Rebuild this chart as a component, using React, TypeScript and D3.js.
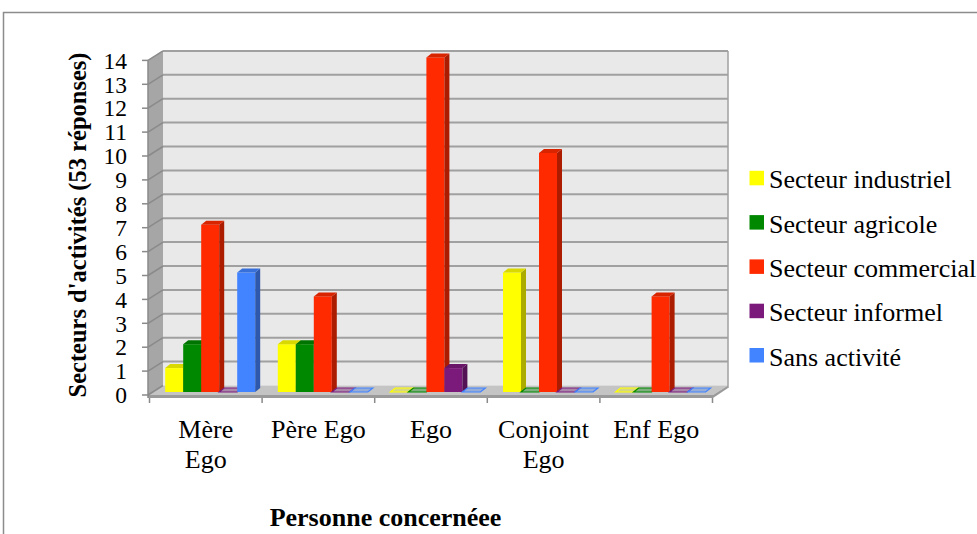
import React from "react";
import * as d3 from "d3";

// categories (x) and series values
const categories = ["Mère Ego", "Père Ego", "Ego", "Conjoint Ego", "Enf Ego"];
const categoryLines = [["Mère", "Ego"], ["Père Ego"], ["Ego"], ["Conjoint", "Ego"], ["Enf Ego"]];
const seriesNames = ["Secteur industriel", "Secteur agricole", "Secteur commercial", "Secteur informel", "Sans activité"];
const industriel = [1, 2, 0, 5, 0];
const agricole = [2, 2, 0, 0, 0];
const commercial = [7, 4, 14, 10, 4];
const informel = [0, 0, 1, 0, 0];
const sansActivite = [5, 0, 0, 0, 0];
const yTicks = [0, 1, 2, 3, 4, 5, 6, 7, 8, 9, 10, 11, 12, 13, 14];

const seriesValues = [industriel, agricole, commercial, informel, sansActivite];
const colors = ["#ffff00", "#008800", "#ff2a00", "#7b1a7b", "#4283ff"];

const FONT = "'Liberation Serif', 'Times New Roman', serif";

export default function App() {
  // front plane of the 3D box
  const left = 148;
  const right = 713;
  const D = { x: 15, y: -9.5 }; // depth of the box
  const y = d3.scaleLinear().domain([0, 14]).range([395, 60.4]);
  const x = d3.scaleBand().domain(categories).range([149.5, 712.5]);
  const inner = d3.scaleBand().domain(seriesNames).range([0, 90]);
  const barDx = 5, barDy = -4; // bar thickness
  const barOff = { x: 15.7, y: -3 };

  const pts = (p: number[][]) => p.map((d) => d.join(",")).join(" ");

  const bars: any[] = [];
  categories.forEach((c, ci) => {
    seriesNames.forEach((s, si) => {
      const v = seriesValues[si][ci];
      const col = d3.color(colors[si])!;
      const x0 = x(c)! + barOff.x + inner(s)!;
      const w = inner.bandwidth();
      const yb = y(0) + barOff.y;
      const yt = y(v) + barOff.y;
      const key = c + s;
      if (v === 0) {
        bars.push(
          <polygon key={key}
            points={pts([[x0, yb], [x0 + w, yb], [x0 + w + barDx, yb + barDy], [x0 + barDx, yb + barDy]])}
            fill={col.copy({ opacity: 0.35 }).toString()} stroke={colors[si]} strokeWidth={1.2} />
        );
        return;
      }
      bars.push(
        <g key={key}>
          <rect x={x0} y={yt} width={w} height={yb - yt} fill={colors[si]} />
          <polygon points={pts([[x0 + w, yt], [x0 + w + barDx, yt + barDy], [x0 + w + barDx, yb + barDy], [x0 + w, yb]])}
            fill={col.darker(1.1).toString()} />
          <polygon points={pts([[x0, yt], [x0 + w, yt], [x0 + w + barDx, yt + barDy], [x0 + barDx, yt + barDy]])}
            fill={col.darker(0.45).toString()} />
        </g>
      );
    });
  });

  return (
    <svg width={977} height={534} style={{ position: "absolute", left: 0, top: 0, background: "#fff" }}>
      {/* outer frame */}
      <path d="M3.5,534 V12.5 H977" fill="none" stroke="#8c8c8c" strokeWidth={1.5} />

      {/* back wall */}
      <rect x={left + D.x} y={y(14) + D.y} width={right - left} height={y(0) - y(14)} fill="#e9e9e9" />
      {/* side wall */}
      <polygon points={pts([[left, y(0)], [left + D.x, y(0) + D.y], [left + D.x, y(14) + D.y], [left, y(14)]])} fill="#a6a6a6" />
      {/* floor */}
      <polygon points={pts([[left, y(0)], [left + D.x, y(0) + D.y], [right + D.x, y(0) + D.y], [right, y(0)]])} fill="#c4c4c4" />
      <polygon points={pts([[left, y(0)], [right, y(0)], [right + D.x, y(0) + D.y], [right + D.x, y(0) + D.y + 2.5], [right, y(0) + 3], [left, y(0) + 3]])} fill="#9a9a9a" />

      {/* gridlines */}
      {yTicks.map((t) => (
        <g key={t}>
          {t > 0 && (
            <line x1={left + D.x} x2={right + D.x} y1={y(t) + D.y} y2={y(t) + D.y} stroke="#a0a0a0" strokeWidth={2} />
          )}
          <line x1={left} x2={left + D.x} y1={y(t)} y2={y(t) + D.y} stroke="#8a8a8a" strokeWidth={1.5} />
          <line x1={left - 6} x2={left} y1={y(t)} y2={y(t)} stroke="#8a8a8a" strokeWidth={1.5} />
          <text x={127} y={y(t)} dy="0.35em" textAnchor="end" fontFamily={FONT} fontSize={23.5}>{t}</text>
        </g>
      ))}
      <line x1={right + D.x} x2={right + D.x} y1={y(14) + D.y} y2={y(0) + D.y + 2.5} stroke="#a0a0a0" strokeWidth={1.5} />
      <line x1={left} x2={left} y1={y(14)} y2={y(0) + 3} stroke="#8a8a8a" strokeWidth={1.5} />

      {/* x ticks */}
      {[...categories.map((c) => x(c)!), x.range()[1]].map((px, i) => (
        <line key={i} x1={px} x2={px} y1={y(0) + 3} y2={y(0) + 8} stroke="#8a8a8a" strokeWidth={1.5} />
      ))}

      {bars}

      {/* category labels */}
      {categories.map((c, ci) => (
        <text key={c} x={x(c)! + x.bandwidth() / 2} y={438} textAnchor="middle" fontFamily={FONT} fontSize={26}>
          {categoryLines[ci].map((l, li) => (
            <tspan key={li} x={x(c)! + x.bandwidth() / 2} dy={li === 0 ? 0 : 30}>{l}</tspan>
          ))}
        </text>
      ))}

      {/* axis titles */}
      <text x={385.5} y={526} textAnchor="middle" fontFamily={FONT} fontSize={26} fontWeight="bold">Personne concernéee</text>
      <text transform="translate(86,225) rotate(-90)" textAnchor="middle" fontFamily={FONT} fontSize={24.5} fontWeight="bold">
        Secteurs d'activités (53 réponses)
      </text>

      {/* legend */}
      {seriesNames.map((s, i) => (
        <g key={s} transform={`translate(0,${188.3 + i * 44.3})`}>
          <rect x={749.5} y={-17.5} width={14.5} height={14.5} fill={colors[i]} />
          <text x={769} y={0} fontFamily={FONT} fontSize={26}>{s}</text>
        </g>
      ))}
    </svg>
  );
}
